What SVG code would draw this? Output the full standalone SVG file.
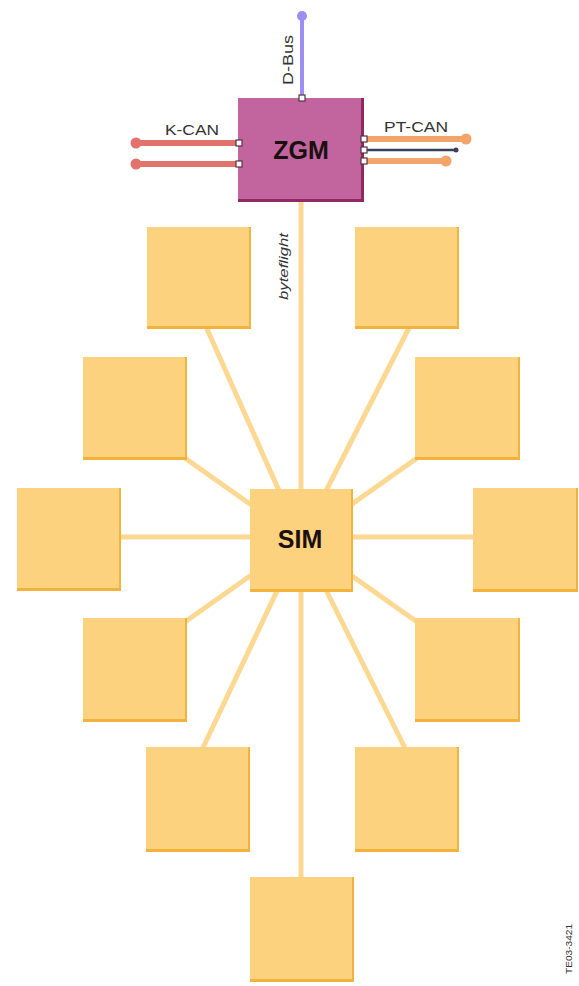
<svg xmlns="http://www.w3.org/2000/svg" width="579" height="986" viewBox="0 0 579 986">
<defs>
<style>
.box{fill:#FDD27E;stroke:#F5B844;stroke-width:0}
.edge{fill:#F2B33C}
.spoke{stroke:#FCD893;stroke-width:5;fill:none;stroke-linecap:butt}
.lbl{font-family:"Liberation Sans",Arial,sans-serif;fill:#333333}
.big{font-family:"Liberation Sans",Arial,sans-serif;font-weight:bold;fill:#1a1010}
.port{fill:#ffffff;stroke:#5a3040;stroke-width:1.2}
</style>
</defs>
<rect x="0" y="0" width="579" height="986" fill="#ffffff"/>
<g id="connectors">
<line class="spoke" x1="301" y1="202" x2="301" y2="880"/>
<line class="spoke" x1="203" y1="320" x2="301" y2="540"/>
<line class="spoke" x1="413" y1="320" x2="301" y2="540"/>
<line class="spoke" x1="182" y1="456" x2="301" y2="540"/>
<line class="spoke" x1="420" y1="456" x2="301" y2="540"/>
<line class="spoke" x1="115" y1="537" x2="480" y2="537"/>
<line class="spoke" x1="182" y1="624" x2="301" y2="540"/>
<line class="spoke" x1="420" y1="624" x2="301" y2="540"/>
<line class="spoke" x1="200" y1="754" x2="301" y2="540"/>
<line class="spoke" x1="408" y1="754" x2="301" y2="540"/>
<line x1="302" y1="17" x2="302" y2="98" stroke="#9C8EF2" stroke-width="4"/>
<circle cx="302" cy="16" r="5" fill="#9C8EF2"/>
<line x1="136" y1="143" x2="240" y2="143" stroke="#E2736C" stroke-width="6"/>
<circle cx="136" cy="143" r="5.5" fill="#E2736C"/>
<line x1="136" y1="164" x2="240" y2="164" stroke="#E2736C" stroke-width="6"/>
<circle cx="136" cy="164" r="5.5" fill="#E2736C"/>
<line x1="364" y1="139" x2="466" y2="139" stroke="#F2A46A" stroke-width="6"/>
<circle cx="466" cy="139" r="5.5" fill="#F2A46A"/>
<line x1="364" y1="150" x2="456" y2="150" stroke="#3C3F5C" stroke-width="2.5"/>
<circle cx="456" cy="150" r="2.5" fill="#3C3F5C"/>
<line x1="364" y1="161" x2="446" y2="161" stroke="#F2A46A" stroke-width="6"/>
<circle cx="446" cy="161" r="5.5" fill="#F2A46A"/>
</g>
<text class="lbl" x="0" y="0" font-size="15" transform="translate(293,85) rotate(-90)" textLength="50" lengthAdjust="spacingAndGlyphs">D-Bus</text>
<text class="lbl" x="165" y="135" font-size="15" textLength="54" lengthAdjust="spacingAndGlyphs">K-CAN</text>
<text class="lbl" x="384" y="132" font-size="15" textLength="64" lengthAdjust="spacingAndGlyphs">PT-CAN</text>
<text class="lbl" x="0" y="0" font-size="13" font-style="italic" transform="translate(288,300) rotate(-90)" textLength="67" lengthAdjust="spacingAndGlyphs">byteflight</text>
<g id="zgm">
<rect x="238" y="98" width="126" height="104" fill="#8E2A62"/>
<rect x="238" y="98" width="123" height="101" fill="#C2649E"/>
<text class="big" x="301" y="159" font-size="25" text-anchor="middle">ZGM</text>
<rect class="port" x="299" y="95" width="6" height="6"/>
<rect class="port" x="236" y="140" width="6" height="6"/>
<rect class="port" x="236" y="161" width="6" height="6"/>
<rect class="port" x="361" y="136" width="6" height="6"/>
<rect class="port" x="361" y="147" width="6" height="6"/>
<rect class="port" x="361" y="158" width="6" height="6"/>
</g>
<g id="n1"><rect class="edge" x="147" y="227" width="104" height="102"/><rect class="box" x="147" y="227" width="102" height="99"/></g>
<g id="n2"><rect class="edge" x="355" y="227" width="104" height="102"/><rect class="box" x="355" y="227" width="102" height="99"/></g>
<g id="n3"><rect class="edge" x="83" y="357" width="104" height="103"/><rect class="box" x="83" y="357" width="102" height="100"/></g>
<g id="n4"><rect class="edge" x="415" y="357" width="105" height="103"/><rect class="box" x="415" y="357" width="103" height="100"/></g>
<g id="n5"><rect class="edge" x="17" y="488" width="104" height="103"/><rect class="box" x="17" y="488" width="102" height="100"/></g>
<g id="sim"><rect class="edge" x="250" y="489" width="103" height="103"/><rect class="box" x="250" y="489" width="101" height="100"/><text class="big" x="300" y="548" font-size="25" text-anchor="middle">SIM</text></g>
<g id="n6"><rect class="edge" x="473" y="488" width="105" height="104"/><rect class="box" x="473" y="488" width="103" height="101"/></g>
<g id="n7"><rect class="edge" x="83" y="618" width="104" height="104"/><rect class="box" x="83" y="618" width="102" height="101"/></g>
<g id="n8"><rect class="edge" x="415" y="618" width="105" height="104"/><rect class="box" x="415" y="618" width="103" height="101"/></g>
<g id="n9"><rect class="edge" x="146" y="747" width="104" height="105"/><rect class="box" x="146" y="747" width="102" height="102"/></g>
<g id="n10"><rect class="edge" x="355" y="747" width="104" height="105"/><rect class="box" x="355" y="747" width="102" height="102"/></g>
<g id="n11"><rect class="edge" x="250" y="877" width="104" height="105"/><rect class="box" x="250" y="877" width="102" height="102"/></g>
<text class="lbl" x="0" y="0" font-size="9" fill="#777777" transform="translate(572,974) rotate(-90)" textLength="50" lengthAdjust="spacingAndGlyphs">TE03-3421</text>
</svg>
